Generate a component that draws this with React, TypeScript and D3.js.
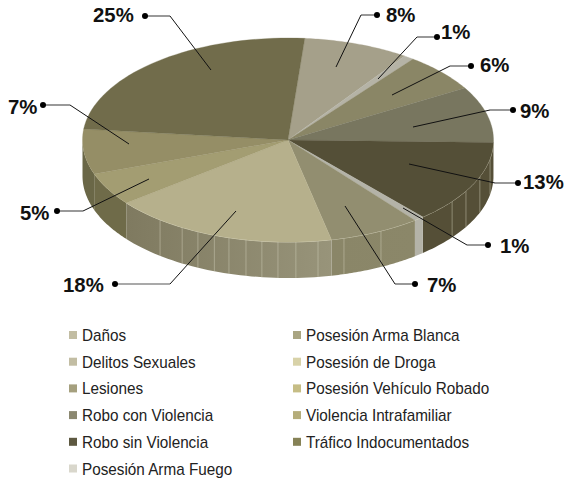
import React from "react";
import * as d3 from "d3";

const sliceNames = ["Delitos Sexuales", "Posesión Arma Fuego", "Lesiones", "Robo con Violencia", "Robo sin Violencia", "Posesión Arma Fuego 2", "Posesión Arma Blanca", "Daños", "Posesión Vehículo Robado", "Violencia Intrafamiliar", "Tráfico Indocumentados"];
const sliceValues = [8.3, 0.8, 6.1, 8.9, 13.2, 0.8, 7.2, 17.8, 5.2, 7.1, 24.6];
const sliceLabels = ["8%", "1%", "6%", "9%", "13%", "1%", "7%", "18%", "5%", "7%", "25%"];
const topColors = ["#a5a08a", "#b5b3a6", "#8a8666", "#78765f", "#544f37", "#b4b3a8", "#928e70", "#b6b08c", "#a39d72", "#958e66", "#716c4b"];
const sideLeftColors = ["#a5a08a", "#b5b3a6", "#8a8666", "#78765f", "#554f37", "#b4b3a8", "#8a8668", "#7f7a60", "#6f6b49", "#6a6747", "#716c4b"];
const sideRightColors = ["#a5a08a", "#b5b3a6", "#8a8666", "#78765f", "#554f37", "#b4b3a8", "#8b8769", "#98947a", "#6f6b49", "#6a6747", "#716c4b"];
const startAngle = 4.7;
const labelDots = [[377, 15], [437, 37], [471, 66], [513, 110], [518, 183], [488, 245], [415, 284], [115, 284], [57, 211], [43, 105], [145, 16]];
const labelElbows = [[361, 15], [417, 37], [450, 66], [490, 110], [495, 183], [467, 245], [395, 284], [170, 284], [83, 211], [70, 105], [170, 16]];
const labelEnds = [[336, 67], [378, 79], [392, 95], [413, 127], [409, 164], [403, 208], [345, 206], [236, 211], [149, 179], [129, 144], [211, 70]];
const labelTextX = [386, 441, 480, 520, 523, 500, 427, 63, 20, 8, 93];
const labelTextY = [22, 39, 72, 118, 189, 253, 292, 292, 220, 114, 22];
const facetDegrees = [218.5, 211, 206, 201, 196.7, 191.8, 187.3, 182.8, 177.8, 171.6, 164.2, 153.1, 127, 120, 111, 100.5];
const legendLeft = ["Daños", "Delitos Sexuales", "Lesiones", "Robo con Violencia", "Robo sin Violencia", "Posesión Arma Fuego"];
const legendLeftColors = ["#c2bda3", "#c2bda3", "#a5a07e", "#8b8870", "#5d5840", "#d9d7cc"];
const legendRight = ["Posesión Arma Blanca", "Posesión de Droga", "Posesión Vehículo Robado", "Violencia Intrafamiliar", "Tráfico Indocumentados"];
const legendRightColors = ["#a9a582", "#d8d2a8", "#c6bd85", "#b5ad7a", "#868256"];

const cx = 288, cy = 140, rx = 205.5, ry = 102, depth = 36;
const font = "'Liberation Sans', Arial, sans-serif";
const px = (deg: number) => cx + rx * Math.sin((deg * Math.PI) / 180);
const py = (deg: number) => cy - ry * Math.cos((deg * Math.PI) / 180);

export default function App() {
  const pie = d3.pie<number>().sort(null).startAngle((startAngle * Math.PI) / 180).endAngle(((startAngle + 360) * Math.PI) / 180);
  const arcs = pie(sliceValues);
  const toDeg = d3.scaleLinear().domain([0, Math.PI]).range([0, 180]);
  const line = d3.line<[number, number]>();
  const spans = arcs.map((a) => [toDeg(a.startAngle), toDeg(a.endAngle)]);
  const arcPts = (s: number, e: number, dy = 0) => d3.range(0, 41).map((i) => {
    const d = s + ((e - s) * i) / 40;
    return [px(d), py(d) + dy] as [number, number];
  });
  const sides = spans.flatMap(([s, e], i) => {
    const ranges: [number, number][] = [];
    for (const off of [0, 360]) {
      const a = Math.max(s, 90 + off), b = Math.min(e, 270 + off);
      if (b > a) ranges.push([a, b]);
    }
    return ranges.map(([a, b]) => ({ i, a, b }));
  });
  return (
    <svg width={564} height={479} style={{ position: "absolute", left: 0, top: 0 }} fontFamily={font}>
      <defs>
        {sides.map(({ i, a, b }) => (
          <linearGradient key={i} id={`side${i}`} gradientUnits="userSpaceOnUse" x1={px(b)} x2={px(a)} y1={0} y2={0}>
            <stop offset="0" stopColor={sideLeftColors[i]} />
            <stop offset="1" stopColor={sideRightColors[i]} />
          </linearGradient>
        ))}
      </defs>
      <rect width={564} height={479} fill="#fff" />
      {sides.map(({ i, a, b }) => {
        const top = arcPts(a, b);
        const bot = arcPts(a, b, depth).reverse();
        return <path key={`s${i}-${a}`} d={`${line([...top, ...bot])}Z`} fill={`url(#side${i})`} />;
      })}
      {facetDegrees.map((d) => (
        <line key={d} x1={px(d)} y1={py(d)} x2={px(d)} y2={py(d) + depth} stroke="#d8d5c0" strokeOpacity={0.55} strokeWidth={0.8} />
      ))}
      <path d={line(arcPts(92, 232)) ?? ""} fill="none" stroke="#e0ddc8" strokeWidth={0.8} />
      {spans.map(([s, e], i) => (
        <path key={sliceNames[i]} d={`${line([[cx, cy], ...arcPts(s, e)])}Z`} fill={topColors[i]} stroke={topColors[i]} strokeWidth={0.3} />
      ))}
      {sliceLabels.map((t, i) => (
        <g key={i}>
          <line x1={labelDots[i][0]} y1={labelDots[i][1]} x2={labelElbows[i][0]} y2={labelElbows[i][1]} stroke="#555" strokeWidth={1.2} />
          <line x1={labelElbows[i][0]} y1={labelElbows[i][1]} x2={labelEnds[i][0]} y2={labelEnds[i][1]} stroke="#111" strokeWidth={1} />
          <circle cx={labelDots[i][0]} cy={labelDots[i][1]} r={3} fill="#000" />
          <text transform={`translate(${labelTextX[i]},${labelTextY[i]}) scale(0.97,1)`} fontSize={21} fontWeight="bold" fill="#111">{t}</text>
        </g>
      ))}
      {legendLeft.map((t, i) => (
        <g key={t}>
          <rect x={69} y={331 + i * 26.7} width={8} height={8} fill={legendLeftColors[i]} />
          <text transform={`translate(82,${341 + i * 26.7}) scale(0.955,1)`} fontSize={16} fill="#222">{t}</text>
        </g>
      ))}
      {legendRight.map((t, i) => (
        <g key={t}>
          <rect x={293} y={331 + i * 26.7} width={8} height={8} fill={legendRightColors[i]} />
          <text transform={`translate(306,${341 + i * 26.7}) scale(0.955,1)`} fontSize={16} fill="#222">{t}</text>
        </g>
      ))}
    </svg>
  );
}
